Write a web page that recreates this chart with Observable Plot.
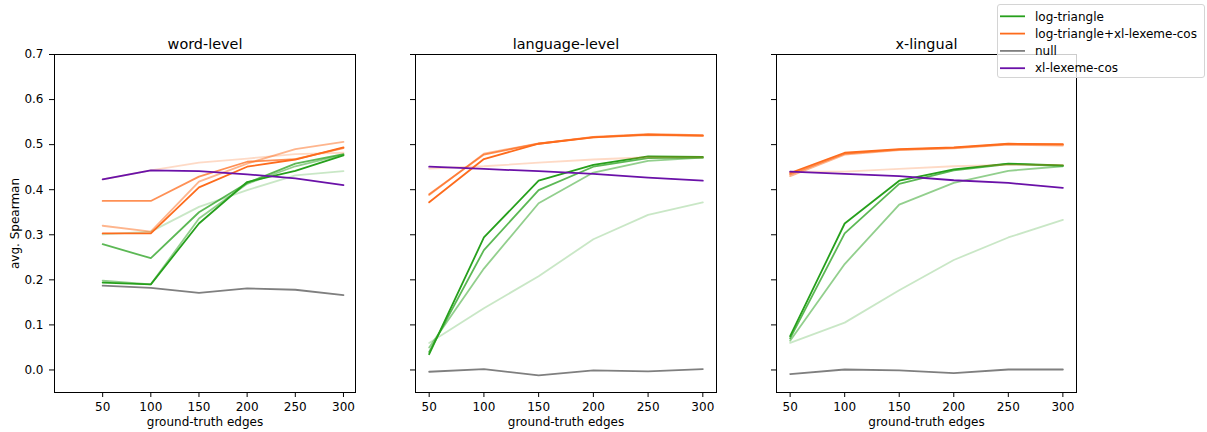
<!DOCTYPE html>
<html><head><meta charset="utf-8">
<script src="https://cdn.jsdelivr.net/npm/d3@7"></script>
<script src="https://cdn.jsdelivr.net/npm/@observablehq/plot@0.6"></script>
<style>
body{margin:0;background:#fff;}
#wrap{position:relative;width:1207px;height:432px;overflow:hidden;font-family:"DejaVu Sans";background:#fff;}
.panel{position:absolute;top:0;}
#legend{position:absolute;left:997px;top:4px;width:208px;height:74px;box-sizing:border-box;border:1px solid #d4d4d4;border-radius:3px;background:rgba(255,255,255,0.8);}
</style></head><body><div id="wrap"></div>
<script>
const edges = [50, 100, 150, 200, 250, 300];
const panels = ["word-level", "language-level", "x-lingual"];
const methods = ["log-triangle", "log-triangle+xl-lexeme-cos", "null", "xl-lexeme-cos"];
const methodColors = ["#26a01c", "#fd6b1c", "#7f7f7f", "#6a11a8"];
const alphaLevels = [1, 0.75, 0.5, 0.25];
const yTicks = [0, 0.1, 0.2, 0.3, 0.4, 0.5, 0.6, 0.7];

// word-level
const wordLogTriangle = [
  [0.194, 0.190, 0.325, 0.417, 0.442, 0.476],
  [0.279, 0.248, 0.350, 0.415, 0.458, 0.479],
  [0.198, 0.190, 0.336, 0.413, 0.452, 0.478],
  [0.301, 0.307, 0.362, 0.399, 0.432, 0.441]
];
const wordCombined = [
  [0.303, 0.303, 0.405, 0.451, 0.467, 0.494],
  [0.375, 0.375, 0.429, 0.462, 0.468, 0.492],
  [0.320, 0.307, 0.418, 0.458, 0.490, 0.506],
  [0.423, 0.443, 0.460, 0.469, 0.479, 0.482]
];
const wordNull = [0.187, 0.182, 0.171, 0.181, 0.178, 0.166];
const wordXl = [0.423, 0.443, 0.441, 0.434, 0.425, 0.410];

// language-level
const langLogTriangle = [
  [0.035, 0.294, 0.420, 0.455, 0.474, 0.473],
  [0.040, 0.266, 0.399, 0.451, 0.470, 0.471],
  [0.050, 0.225, 0.370, 0.438, 0.464, 0.471],
  [0.060, 0.137, 0.208, 0.290, 0.344, 0.372]
];
const langCombined = [
  [0.372, 0.468, 0.502, 0.516, 0.522, 0.520],
  [0.390, 0.478, 0.502, 0.517, 0.523, 0.521],
  [0.388, 0.480, 0.503, 0.516, 0.521, 0.519],
  [0.447, 0.452, 0.460, 0.467, 0.472, 0.472]
];
const langNull = [-0.004, 0.002, -0.012, -0.001, -0.003, 0.002];
const langXl = [0.451, 0.446, 0.441, 0.435, 0.427, 0.420];

// x-lingual
const xlingLogTriangle = [
  [0.075, 0.325, 0.420, 0.445, 0.458, 0.454],
  [0.070, 0.303, 0.413, 0.443, 0.457, 0.453],
  [0.065, 0.235, 0.367, 0.415, 0.442, 0.452],
  [0.060, 0.105, 0.177, 0.244, 0.294, 0.333]
];
const xlingCombined = [
  [0.437, 0.482, 0.490, 0.494, 0.502, 0.501],
  [0.434, 0.480, 0.489, 0.493, 0.501, 0.500],
  [0.430, 0.478, 0.488, 0.492, 0.500, 0.498],
  [0.440, 0.440, 0.446, 0.452, 0.455, 0.455]
];
const xlingNull = [-0.009, 0.001, -0.001, -0.007, 0.001, 0.001];
const xlingXl = [0.440, 0.435, 0.430, 0.421, 0.415, 0.404];

const panelData = [
  [wordLogTriangle, wordCombined, [wordNull], [wordXl]],
  [langLogTriangle, langCombined, [langNull], [langXl]],
  [xlingLogTriangle, xlingCombined, [xlingNull], [xlingXl]]
];

const layout = [
  {left: 0, ml: 54, mr: 5, xd: [0, 312.5]},
  {left: 360, ml: 55, mr: 4, xd: [37.5, 312.5]},
  {left: 720, ml: 56, mr: 4, xd: [37.5, 312.5]}
];

const wrap = document.getElementById("wrap");

panels.forEach((title, p) => {
  const lineMarks = [];
  panelData[p].forEach((seriesList, m) => {
    const order = seriesList.map((_, i) => i).reverse(); // lightest first
    order.forEach(v => {
      const rows = edges.map((e, i) => ({edge: e, value: seriesList[v][i]}));
      lineMarks.push(Plot.line(rows, {
        x: "edge", y: "value",
        stroke: methodColors[m],
        strokeOpacity: seriesList.length > 1 ? alphaLevels[v] : 1,
        strokeWidth: 1.8
      }));
    });
  });
  const L = layout[p];
  const chart = Plot.plot({
    width: 360, height: 432,
    marginLeft: L.ml, marginRight: L.mr, marginTop: 54, marginBottom: 40,
    style: {fontFamily: "DejaVu Sans", fontSize: "12px", color: "black", background: "transparent", overflow: "visible"},
    x: {domain: L.xd},
    y: {domain: [-0.05, 0.7]},
    marks: [
      ...lineMarks,
      Plot.frame({stroke: "black", strokeWidth: 1}),
      Plot.axisX({ticks: edges, tickSize: 5, tickPadding: 5, fontSize: 12, label: "ground-truth edges", labelAnchor: "center", labelArrow: "none", labelOffset: 33}),
      Plot.axisY({ticks: yTicks, tickSize: 5, tickPadding: 6, fontSize: 12,
        tickFormat: p === 0 ? d3.format(".1f") : () => "",
        label: p === 0 ? "avg. Spearman" : null, labelAnchor: "center", labelArrow: "none", labelOffset: 44}),
      Plot.text([title], {text: d => d, frameAnchor: "top", dy: -6, lineAnchor: "bottom", fontSize: 14.4})
    ]
  });
  chart.classList.add("panel");
  chart.style.left = L.left + "px";
  wrap.appendChild(chart);
});

// legend
const legend = document.createElement("div");
legend.id = "legend";
wrap.appendChild(legend);
const lsvg = d3.select(legend).append("svg").attr("width", 206).attr("height", 72)
  .style("position", "absolute").style("left", "0px").style("top", "0px");
const rowY = [11.3, 28.6, 45.9, 63.2];
methods.forEach((name, i) => {
  lsvg.append("line").attr("x1", 2).attr("x2", 27).attr("y1", rowY[i]).attr("y2", rowY[i])
    .attr("stroke", methodColors[i]).attr("stroke-width", 1.8);
  lsvg.append("text").attr("x", 37).attr("y", rowY[i]).attr("dy", "0.35em")
    .attr("font-family", "DejaVu Sans").attr("font-size", "12px").attr("fill", "black").text(name);
});
</script>
</body></html>
